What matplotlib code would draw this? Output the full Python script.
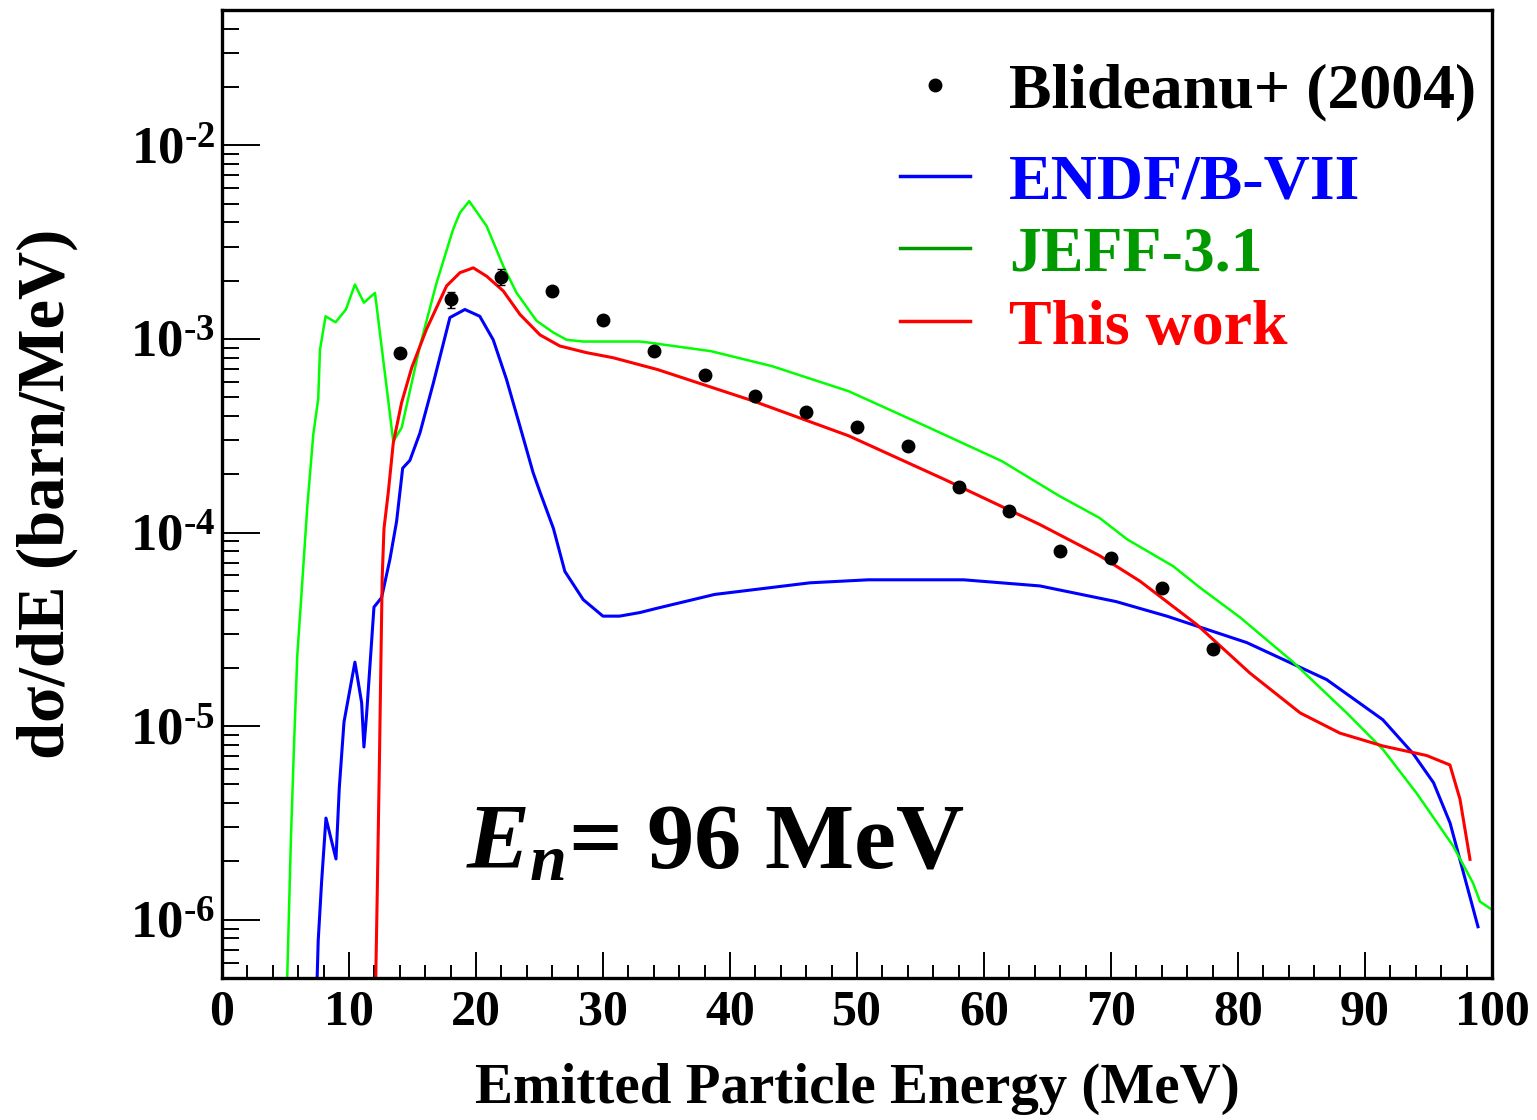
import matplotlib

matplotlib.use("Agg")
import matplotlib.pyplot as plt
from matplotlib.lines import Line2D
from matplotlib.ticker import LogLocator, MultipleLocator, NullFormatter

# Blideanu+ (2004) measured points
exp_e = [14, 18, 22, 26, 30, 34, 38, 42, 46, 50, 54, 58, 62, 66, 70, 74, 78]
exp_xs = [8.5e-4, 1.6e-3, 2.1e-3, 1.76e-3, 1.26e-3, 8.7e-4, 6.5e-4, 5.1e-4, 4.2e-4,
          3.5e-4, 2.8e-4, 1.71e-4, 1.29e-4, 8.0e-5, 7.4e-5, 5.2e-5, 2.5e-5]
exp_err = [4e-5, 1.5e-4, 2e-4, 8e-5, 6e-5, 4e-5, 3e-5, 2.5e-5, 2e-5,
           1.5e-5, 1.2e-5, 8e-6, 6e-6, 4e-6, 3.5e-6, 2.5e-6, 1.2e-6]

# ENDF/B-VII
endf_e = [7.4, 7.58, 7.85, 8.19, 8.98, 9.24, 9.61, 10.47, 11.0, 11.18, 11.39, 11.97, 12.57,
          13.23, 13.75, 14.23, 14.8, 15.59, 16.64, 17.95, 19.13, 20.3, 21.36, 22.4, 23.46,
          24.5, 25.04, 26.1, 27.0, 28.45, 30.0, 31.3, 32.9, 34.3, 38.8, 46.3, 50.9, 58.4,
          64.4, 70.4, 74.4, 80.7, 86.98, 91.4, 93.8, 95.4, 96.7, 98.9]
endf_xs = [3e-7, 7.8e-7, 1.58e-6, 3.35e-6, 2.06e-6, 4.8e-6, 1.05e-5, 2.14e-5, 1.32e-5, 7.8e-6,
           1.15e-5, 4.12e-5, 4.61e-5, 7.3e-5, 1.14e-4, 2.15e-4, 2.36e-4, 3.27e-4, 5.9e-4,
           1.29e-3, 1.42e-3, 1.31e-3, 9.9e-4, 6.2e-4, 3.55e-4, 2.04e-4, 1.62e-4, 1.05e-4,
           6.3e-5, 4.5e-5, 3.7e-5, 3.7e-5, 3.86e-5, 4.07e-5, 4.79e-5, 5.5e-5, 5.7e-5, 5.7e-5,
           5.3e-5, 4.4e-5, 3.7e-5, 2.7e-5, 1.74e-5, 1.08e-5, 7.2e-6, 5.1e-6, 3.16e-6, 9.2e-7]

# JEFF-3.1
jeff_e = [5.1, 5.43, 5.67, 5.93, 6.27, 6.72, 7.19, 7.58, 7.72, 8.16, 8.95, 9.76, 10.47, 11.18,
          12.05, 13.49, 14.15, 15.59, 16.9, 18.2, 18.74, 19.47, 20.84, 22.15, 23.2, 24.78,
          26.09, 27.14, 28.45, 32.9, 33.5, 38.5, 43.3, 49.35, 55.4, 61.4, 65.9, 69.1, 71.3,
          74.9, 77.0, 80.2, 84.35, 88.56, 91.4, 94.07, 96.95, 98.5, 99.06, 99.97]
jeff_xs = [4e-7, 2.6e-6, 7.8e-6, 2.3e-5, 4.9e-5, 1.36e-4, 3.2e-4, 4.9e-4, 8.8e-4, 1.31e-3,
           1.22e-3, 1.42e-3, 1.91e-3, 1.54e-3, 1.73e-3, 2.96e-4, 3.48e-4, 9.2e-4, 1.95e-3,
           3.68e-3, 4.49e-3, 5.15e-3, 3.83e-3, 2.38e-3, 1.73e-3, 1.24e-3, 1.08e-3, 9.9e-4,
           9.7e-4, 9.7e-4, 9.6e-4, 8.65e-4, 7.24e-4, 5.37e-4, 3.55e-4, 2.34e-4, 1.55e-4,
           1.19e-4, 9.2e-5, 6.7e-5, 5.2e-5, 3.63e-5, 2.14e-5, 1.17e-5, 7.6e-6, 4.5e-6,
           2.4e-6, 1.55e-6, 1.24e-6, 1.13e-6]

# This work
this_e = [12.05, 12.23, 12.39, 12.52, 12.62, 12.76, 13.1, 13.49, 14.15, 14.94, 16.1, 17.69,
          18.74, 19.79, 20.84, 22.15, 23.46, 25.04, 26.6, 28.7, 30.8, 34.3, 41.8, 49.35, 56.9,
          64.4, 69.1, 72.3, 76.75, 80.94, 84.9, 88.03, 91.4, 94.86, 96.69, 97.48, 98.27]
this_xs = [3e-7, 1.38e-6, 6.0e-6, 2.24e-5, 5.9e-5, 1.05e-4, 1.62e-4, 2.9e-4, 4.7e-4, 7.1e-4,
           1.12e-3, 1.88e-3, 2.2e-3, 2.33e-3, 2.11e-3, 1.77e-3, 1.34e-3, 1.05e-3, 9.2e-4,
           8.5e-4, 8.0e-4, 6.95e-4, 4.79e-4, 3.16e-4, 1.88e-4, 1.10e-4, 7.6e-5, 5.6e-5,
           3.35e-5, 1.88e-5, 1.17e-5, 9.2e-6, 7.9e-6, 7.05e-6, 6.3e-6, 4.2e-6, 2.05e-6]

y_ticks = [1e-6, 1e-5, 1e-4, 1e-3, 1e-2]
y_tick_labels = [r"$\mathbf{10^{\text{-}6}}$", r"$\mathbf{10^{\text{-}5}}$",
                 r"$\mathbf{10^{\text{-}4}}$", r"$\mathbf{10^{\text{-}3}}$",
                 r"$\mathbf{10^{\text{-}2}}$"]


def plot():
    plt.rcParams["font.family"] = ["Liberation Serif", "DejaVu Serif"]
    plt.rcParams["font.weight"] = "bold"
    plt.rcParams["mathtext.fontset"] = "custom"
    plt.rcParams["mathtext.rm"] = "Liberation Serif:bold"
    plt.rcParams["mathtext.bf"] = "Liberation Serif:bold"
    plt.rcParams["mathtext.it"] = "Liberation Serif:italic:bold"

    fig = plt.figure(figsize=(15.37, 11.2), dpi=100)
    ax = fig.add_axes([0.1444, 0.1268, 0.8263, 0.8642])

    ax.plot(endf_e, endf_xs, color="#0000ff", lw=2.2)
    ax.plot(jeff_e, jeff_xs, color="#00ff00", lw=1.8)
    ax.plot(this_e, this_xs, color="#ff0000", lw=2.2)
    ax.errorbar(exp_e, exp_xs, yerr=exp_err, fmt="o", color="black", ms=9,
                elinewidth=1.5, capsize=3, zorder=5)

    ax.set_yscale("log")
    ax.set_xlim(0, 100)
    ax.set_ylim(5e-7, 0.05)

    ax.xaxis.set_major_locator(MultipleLocator(10))
    ax.xaxis.set_minor_locator(MultipleLocator(2))
    ax.set_yticks(y_ticks, y_tick_labels)
    ax.yaxis.set_minor_locator(LogLocator(base=10, subs=range(2, 10)))
    ax.yaxis.set_minor_formatter(NullFormatter())

    ax.tick_params(axis="both", which="both", direction="in", top=False, right=False, width=1.4)
    ax.tick_params(axis="y", which="major", length=27, labelsize=38, pad=5)
    ax.tick_params(axis="y", which="minor", length=12)
    ax.tick_params(axis="x", which="major", length=19, labelsize=36, pad=8)
    ax.tick_params(axis="x", which="minor", length=9.5)
    for lab in ax.get_xticklabels():
        lab.set_fontweight("bold")
    for sp in ax.spines.values():
        sp.set_linewidth(2.4)

    ax.set_xlabel("Emitted Particle Energy (MeV)", fontsize=41, fontweight="bold", labelpad=20)
    ax.set_ylabel("dσ/dE (barn/MeV)", fontsize=48, fontweight="bold")
    ax.yaxis.set_label_coords(-0.113, 0.5)

    ax.text(0.192, 0.114, r"$E_n$= 96 MeV", transform=ax.transAxes, fontsize=68,
            fontweight="bold", va="baseline")

    leg_opts = dict(loc="upper left", frameon=False, prop={"size": 46, "weight": "bold"},
                    handlelength=1.1, handletextpad=0.6, labelspacing=0.22,
                    borderpad=0, borderaxespad=0)
    leg1 = ax.legend([Line2D([], [], marker="o", ls="none", color="black", ms=9)],
                     ["Blideanu+ (2004)"], bbox_to_anchor=(0.534, 0.946), **leg_opts)
    ax.add_artist(leg1)

    line_handles = [
        Line2D([], [], color="#0000ff", lw=2.5),
        Line2D([], [], color="#009900", lw=2.5),
        Line2D([], [], color="#ff0000", lw=2.5),
    ]
    leg2 = ax.legend(line_handles, ["ENDF/B-VII", "JEFF-3.1", "This work"],
                     bbox_to_anchor=(0.534, 0.852), **leg_opts)
    for txt, c in zip(leg2.get_texts(), ["#0000ff", "#009900", "#ff0000"]):
        txt.set_color(c)

    fig.savefig("out.png", dpi=100)


if __name__ == "__main__":
    plot()
